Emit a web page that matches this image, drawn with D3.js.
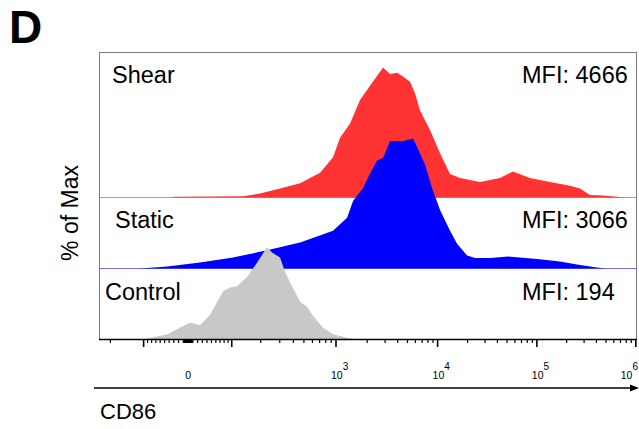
<!DOCTYPE html>
<html>
<head>
<meta charset="utf-8">
<script src="https://cdn.jsdelivr.net/npm/d3@7/dist/d3.min.js"></script>
<style>
  body { margin: 0; background: #fff; }
  svg { display: block; font-family: "Liberation Sans", Arial, sans-serif; }
</style>
</head>
<body>
<div id="chart"></div>
<script>
// sample order top -> bottom (offset overlay)
var samples = ['Shear', 'Static', 'Control'];
var mfi = [4666, 3066, 194];

// histograms: [CD86 intensity, % of max]
var shear = [[-34, 0], [-30, 0.5], [134, 1], [197, 3], [302, 7], [461, 11], [570, 15], [707, 19],
  [937, 31], [1093, 46], [1364, 57], [1703, 75], [2133, 86], [2863, 100], [3356, 95], [3950, 96],
  [4517, 93], [5301, 89], [5950, 80], [6672, 67], [8397, 52], [10580, 34], [13330, 18], [16800, 15],
  [26710, 12], [42400, 15], [57450, 20], [85320, 15], [135800, 12], [216200, 9], [272900, 7],
  [344400, 2], [466200, 1.5], [692300, 0.3], [800000, 0]];

var staticHist = [[-109, 0], [-44, 1.5], [25, 4.6], [104, 8.5], [229, 14], [461, 20], [937, 29],
  [1276, 39], [1458, 52], [1822, 62], [2133, 73], [2499, 83], [2863, 85], [3356, 98], [4517, 98],
  [5680, 100], [6370, 92], [7480, 80], [8790, 62], [10580, 45], [13330, 29], [15680, 19],
  [19800, 10], [23770, 8], [33690, 8], [51140, 9.2], [100360, 7.3], [171300, 5.4], [254400, 3],
  [405400, 0.8], [488500, 0]];

var control = [[-101, 0], [-44, 4], [-17, 9], [4, 13], [25, 11], [47, 19], [77, 37], [95, 40],
  [115, 41], [147, 48], [184, 59], [229, 71], [255, 67], [302, 63], [336, 52], [389, 41],
  [461, 29], [535, 25], [608, 18], [754, 9], [937, 4], [1364, 0.8], [1907, 0]];

var hists = [shear, staticHist, control];
var fills = ['#ff3333', '#0000ff', '#c8c8c8'];
var lines = ['#ff7a7a', '#7070ff', null];

var decades = [0, 3, 4, 5, 6];       // labelled positions: 0, 10^3 .. 10^6
var xMinVal = -243, xMaxVal = 1.028e6;

var width = 639, height = 429;
var margin = { top: 52, right: 2, bottom: 90, left: 99 };
var plotBottom = height - margin.bottom;   // 339
var laneStep = 71;
var laneHeight = 130;

// logicle-like display transform (FlowJo biexponential)
var A = 29.8;
function logicleInv(x) { return A * (Math.exp(x) - 4 * Math.exp(-x / 2) + 3); }
function logicle(v) {
  var lo = -6, hi = 16;
  for (var i = 0; i < 60; i++) {
    var mid = (lo + hi) / 2;
    if (logicleInv(mid) < v) lo = mid; else hi = mid;
  }
  return (lo + hi) / 2;
}

var svg = d3.select('#chart').append('svg')
  .attr('width', width)
  .attr('height', height);

var x = d3.scaleLinear()
  .domain([logicle(xMinVal), logicle(xMaxVal)])
  .range([margin.left, width - margin.right]);

var y = d3.scaleLinear().domain([0, 100]).range([0, laneHeight]);

// frame
svg.append('rect')
  .attr('x', margin.left + 0.5)
  .attr('y', margin.top + 0.5)
  .attr('width', width - margin.right - margin.left - 1)
  .attr('height', plotBottom - margin.top)
  .attr('fill', 'none')
  .attr('stroke', '#7a7a7a')
  .attr('stroke-width', 1);

// lanes, drawn top to bottom so lower ones overlap
samples.forEach(function (name, i) {
  var base = plotBottom - (samples.length - 1 - i) * laneStep;
  var g = svg.append('g');
  if (lines[i]) {
    g.append('line')
      .attr('x1', margin.left + 1).attr('x2', width - margin.right)
      .attr('y1', base + 0.5).attr('y2', base + 0.5)
      .attr('stroke', lines[i]).attr('stroke-width', 1);
  }
  var area = d3.area()
    .x(function (d) { return x(logicle(d[0])); })
    .y0(base + 0.5)
    .y1(function (d) { return base + 0.5 - y(d[1]); });
  g.append('path')
    .datum(hists[i])
    .attr('d', area)
    .attr('fill', fills[i]);
});

// sample labels
var labelPos = [[112, 83], [115, 228], [105, 300]];
samples.forEach(function (name, i) {
  svg.append('text')
    .attr('x', labelPos[i][0]).attr('y', labelPos[i][1])
    .attr('font-size', 23.5)
    .text(name);
  svg.append('text')
    .attr('x', 522).attr('y', labelPos[i][1])
    .attr('font-size', 23.5)
    .text('MFI: ' + mfi[i]);
});

// ticks
var tickVals = [0];
for (var k = 0; k <= 5; k++) {
  for (var m = 1; m <= 9; m++) {
    tickVals.push(m * Math.pow(10, k));
    tickVals.push(-m * Math.pow(10, k));
  }
}
tickVals.push(1e6);
tickVals = tickVals.filter(function (v) { return v >= xMinVal && v <= xMaxVal + 1; });
var isMajor = function (v) { return [100, 1e3, 1e4, 1e5, 1e6].indexOf(Math.abs(v)) >= 0; };

svg.append('g').selectAll('line')
  .data(tickVals)
  .enter().append('line')
  .attr('x1', function (d) { return x(logicle(d)); })
  .attr('x2', function (d) { return x(logicle(d)); })
  .attr('y1', plotBottom)
  .attr('y2', function (d) { return plotBottom + (isMajor(d) ? 8 : 4); })
  .attr('stroke', '#000')
  .attr('stroke-width', function (d) { return isMajor(d) ? 1.6 : 1.2; });

// axis line
svg.append('line')
  .attr('x1', margin.left).attr('x2', width - margin.right)
  .attr('y1', plotBottom + 0.5).attr('y2', plotBottom + 0.5)
  .attr('stroke', '#000').attr('stroke-width', 1.6);

// tick labels
var lab = svg.append('g').attr('font-size', 10.5);
decades.forEach(function (p) {
  var v = p === 0 ? 0 : Math.pow(10, p);
  var tx = x(logicle(v));
  var t = lab.append('text').attr('y', 379);
  if (p === 0) {
    t.attr('x', tx).attr('text-anchor', 'middle').text('0');
  } else {
    t.append('tspan').text('10');
    t.append('tspan').attr('dy', -9).attr('font-size', 10).text(p);
    var w = t.node().getComputedTextLength();
    var left = Math.min(tx - 5, width - 1 - w);
    t.attr('x', left);
  }
});

// arrow below the axis
var arrowY = 388;
svg.append('line')
  .attr('x1', 94).attr('x2', width - 6)
  .attr('y1', arrowY).attr('y2', arrowY)
  .attr('stroke', '#000').attr('stroke-width', 1.5);
svg.append('path')
  .attr('d', 'M' + (width - 9) + ',' + (arrowY - 3.5) + 'L' + width + ',' + arrowY + 'L' + (width - 9) + ',' + (arrowY + 3.5) + 'Z')
  .attr('fill', '#000');

svg.append('text')
  .attr('x', 100).attr('y', 419)
  .attr('font-size', 22)
  .text('CD86');

svg.append('text')
  .attr('transform', 'translate(78,213) rotate(-90)')
  .attr('text-anchor', 'middle')
  .attr('font-size', 23)
  .text('% of Max');

svg.append('text')
  .attr('x', 9).attr('y', 43)
  .attr('font-size', 46)
  .attr('font-weight', 'bold')
  .text('D');
</script>
</body>
</html>
